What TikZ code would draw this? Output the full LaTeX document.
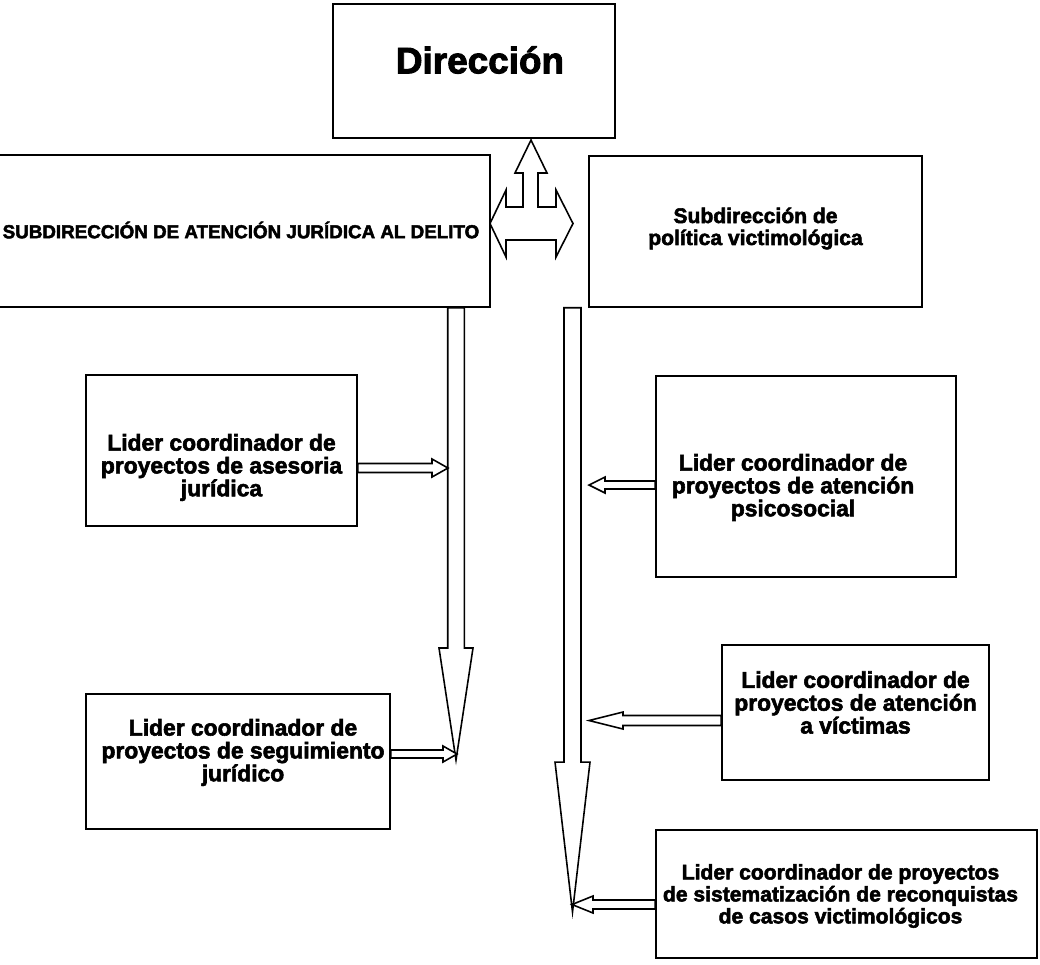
\documentclass[tikz,border=0pt]{standalone}
\usepackage{fontspec}
\setmainfont{Liberation Sans}[BoldFeatures={FakeBold=2.5}]
\usetikzlibrary{calc}
\tikzset{
    org-box/.style = {draw, line width=0.9pt, rectangle, inner sep=0pt},
    org-text/.style = {font=\bfseries\fontsize{12}{12.5}\selectfont, align=center, inner sep=1pt},
    big-text/.style = {font=\bfseries\fontsize{13}{13}\selectfont},
    block-arrow/.style = {draw, fill=white, line width=0.9pt, line join=miter},
    % hollow block arrow: shaft half width, head half width, head length (px)
    block/.style n args = {3}{to path={
        ($(\tikztostart)!#1*0.2mm!90:(\tikztotarget)$)
        -- ($(\tikztotarget)!#3*0.2mm!(\tikztostart)!#1*0.2mm!90:(\tikztotarget)$)
        -- ($(\tikztotarget)!#3*0.2mm!(\tikztostart)!#2*0.2mm!90:(\tikztotarget)$)
        -- (\tikztotarget)
        -- ($(\tikztotarget)!#3*0.2mm!(\tikztostart)!#2*0.2mm!-90:(\tikztotarget)$)
        -- ($(\tikztotarget)!#3*0.2mm!(\tikztostart)!#1*0.2mm!-90:(\tikztotarget)$)
        -- ($(\tikztostart)!#1*0.2mm!-90:(\tikztotarget)$)
        -- cycle}},
}

\begin{document}
\begin{tikzpicture}[x=0.02cm, y=-0.02cm]
\useasboundingbox (0,0) rectangle (1040,964);

% boxes
\node[org-box, minimum width=56.4mm, minimum height=26.8mm] (dir) at (474,71) {};
\node[org-box, minimum width=102mm, minimum height=30.4mm] (subj) at (235,231) {};
\node[org-box, minimum width=66.6mm, minimum height=30.2mm] (subp) at (755.5,231.5) {};
\node[org-box, minimum width=54.2mm, minimum height=30.2mm] (aj) at (221.5,450.5) {};
\node[org-box, minimum width=60.8mm, minimum height=27mm] (jseg) at (238,761.5) {};
\node[org-box, minimum width=60mm, minimum height=40.2mm] (ps) at (806,476.5) {};
\node[org-box, minimum width=53.4mm, minimum height=27mm] (av) at (855.5,712.5) {};
\node[org-box, minimum width=76.2mm, minimum height=25.6mm] (sist) at (846.5,894) {};

% texts
\node[org-text, font=\bfseries\fontsize{21}{22}\selectfont] (dir-text) at ($(dir)+(6,-11)$) {Dirección};
\node[org-text, font=\bfseries\fontsize{10.7}{12}\selectfont] (subj-text) at ($(subj)+(6,-1)$) {SUBDIRECCIÓN DE ATENCIÓN JURÍDICA AL DELITO};
\node[org-text] (subp-text) at ($(subp)+(0,-3)$) {Subdirección de\\política victimológica};
\node[org-text, big-text] (aj-text) at ($(aj)+(0,17)$) {Lider coordinador de\\proyectos de asesoria\\jurídica};
\node[org-text, big-text] (jseg-text) at ($(jseg)+(5,-9)$) {Lider coordinador de\\proyectos de seguimiento\\jurídico};
\node[org-text, big-text] (ps-text) at ($(ps)+(-13,11)$) {Lider coordinador de\\proyectos de atención\\psicosocial};
\node[org-text, big-text] (av-text) at ($(av)+(0,-10)$) {Lider coordinador de\\proyectos de atención\\a víctimas};
\node[org-text] (sist-text) at ($(sist)+(-6,2)$) {Lider coordinador de proyectos\\de sistematización de reconquistas\\de casos victimológicos};

% arrow between direction and sub-directions
\coordinate (hub) at (531,223.5);
\draw[block-arrow, shift={(hub)}] (0,-83.5) -- (16,-50.5) -- (7,-50.5) -- (7,-16.5)
    -- (25,-16.5) -- (25,-33.5) -- (42,0) -- (25,33.5) -- (25,16.5)
    -- (-25,16.5) -- (-25,33.5) -- (-41,0) -- (-25,-33.5) -- (-25,-16.5)
    -- (-8,-16.5) -- (-8,-50.5) -- (-16,-50.5) -- cycle;

% long vertical arrows
\coordinate (vl-tip) at (456,760);
\coordinate (vl-top) at (subj.south -| vl-tip);
\coordinate (vr-tip) at (572.5,912);
\coordinate (vr-top) at (subp.south -| vr-tip);
\draw[block-arrow] (vl-top) to[block={8.3}{17}{112}] (vl-tip);
\draw[block-arrow] (vr-top) to[block={8.5}{17.5}{150}] (vr-tip);

% small arrows from the leaders
\coordinate (a1-tip) at (448,468);
\coordinate (a1-end) at (aj.east |- a1-tip);
\coordinate (a2-tip) at (457,754);
\coordinate (a2-end) at (jseg.east |- a2-tip);
\coordinate (a3-tip) at (589,485);
\coordinate (a3-end) at (ps.west |- a3-tip);
\coordinate (a4-tip) at (589,720.5);
\coordinate (a4-end) at (av.west |- a4-tip);
\coordinate (a5-tip) at (572,904.5);
\coordinate (a5-end) at (sist.west |- a5-tip);
\draw[block-arrow] (a1-end) to[block={4.5}{9}{16}] (a1-tip);
\draw[block-arrow] (a2-end) to[block={4}{8}{14}] (a2-tip);
\draw[block-arrow] (a3-end) to[block={4}{8}{16}] (a3-tip);
\draw[block-arrow] (a4-end) to[block={5}{8.5}{34}] (a4-tip);
\draw[block-arrow] (a5-end) to[block={4.5}{8.5}{21}] (a5-tip);
\end{tikzpicture}
\end{document}
